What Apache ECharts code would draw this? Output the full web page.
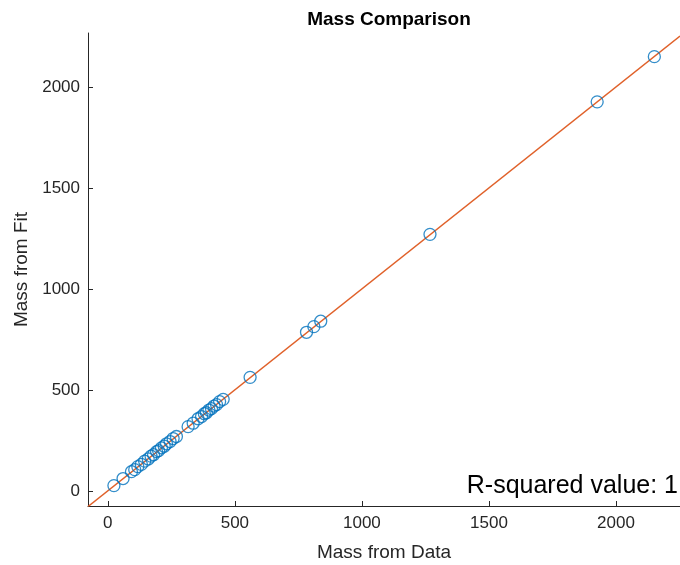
<!DOCTYPE html>
<html>
<head>
<meta charset="utf-8">
<script src="https://cdn.jsdelivr.net/npm/echarts@6/dist/echarts.min.js"></script>
<style>
  html, body { margin: 0; padding: 0; background: #fff; }
  #chart { width: 680px; height: 565px; }
</style>
</head>
<body>
<div id="chart"></div>
<script>
// measured masses vs fitted masses
var massData = [24, 60, 93, 106, 118, 132, 145, 159, 170, 180, 192, 200, 211, 222, 231, 245, 257, 270,
  316, 336, 355, 369, 380, 388, 398, 408, 418, 428, 440, 454, 560, 782, 811, 838, 1268, 1926, 2151];
var massFit = [26, 61, 95, 105, 120, 131, 147, 158, 172, 179, 194, 199, 213, 221, 233, 244, 259, 269,
  318, 335, 357, 368, 382, 387, 400, 407, 420, 427, 442, 453, 562, 785, 813, 840, 1270, 1926, 2150];
var xTicks = [0, 500, 1000, 1500, 2000];
var yTicks = [0, 500, 1000, 1500, 2000];
var fitX = [-78, 2252];
var fitSlope = 1, fitIntercept = 0;
var rSquared = 1;

var points = massData.map(function (v, i) { return [v, massFit[i]]; });
var fitLine = fitX.map(function (v) { return [v, fitSlope * v + fitIntercept]; });

var axisColor = "#262626";
var font = "Arial, Liberation Sans";
var myChart = echarts.init(document.getElementById("chart"));
var option = {
  animation: false,
  title: {
    text: "Mass Comparison",
    left: 384,
    textAlign: "center",
    top: 5,
    textStyle: { fontFamily: font, fontSize: 19, fontWeight: "bold", color: "#000" }
  },
  grid: { left: 88, right: 0, top: 33, bottom: 59, outerBoundsMode: "none" },
  xAxis: {
    type: "value",
    min: -78,
    max: 2252,
    name: "Mass from Data",
    nameLocation: "middle",
    nameGap: 37,
    nameTextStyle: { fontFamily: font, fontSize: 19, color: axisColor },
    axisLine: { show: true, onZero: false, lineStyle: { color: axisColor, width: 1 } },
    axisTick: { show: true, inside: true, length: 5, customValues: xTicks, lineStyle: { color: axisColor } },
    axisLabel: {
      customValues: xTicks, fontFamily: font, fontSize: 17, color: axisColor, margin: 9,
      formatter: function (v) { return String(v); }
    },
    splitLine: { show: false }
  },
  yAxis: {
    type: "value",
    min: -75,
    max: 2267,
    name: "Mass from Fit",
    nameLocation: "middle",
    nameGap: 55,
    nameTextStyle: { fontFamily: font, fontSize: 19, color: axisColor },
    axisLine: { show: true, onZero: false, lineStyle: { color: axisColor, width: 1 } },
    axisTick: { show: true, inside: true, length: 5, customValues: yTicks, lineStyle: { color: axisColor } },
    axisLabel: {
      customValues: yTicks, fontFamily: font, fontSize: 17, color: axisColor, margin: 8,
      formatter: function (v) { return String(v); }
    },
    splitLine: { show: false }
  },
  graphic: [
    {
      type: "text",
      right: 2,
      top: 474,
      style: {
        text: "R-squared value: " + rSquared,
        font: "25px Arial, 'Liberation Sans'",
        fill: "#000"
      }
    }
  ],
  series: [
    {
      name: "fit",
      type: "line",
      data: fitLine,
      symbol: "none",
      lineStyle: { color: "#E0612A", width: 1.4 },
      z: 2
    },
    {
      name: "data",
      type: "scatter",
      data: points,
      symbol: "circle",
      symbolSize: 12,
      itemStyle: { color: "rgba(0,0,0,0)", borderColor: "#0072BD", borderWidth: 1.3 },
      z: 3
    }
  ]
};
myChart.setOption(option);
</script>
</body>
</html>
